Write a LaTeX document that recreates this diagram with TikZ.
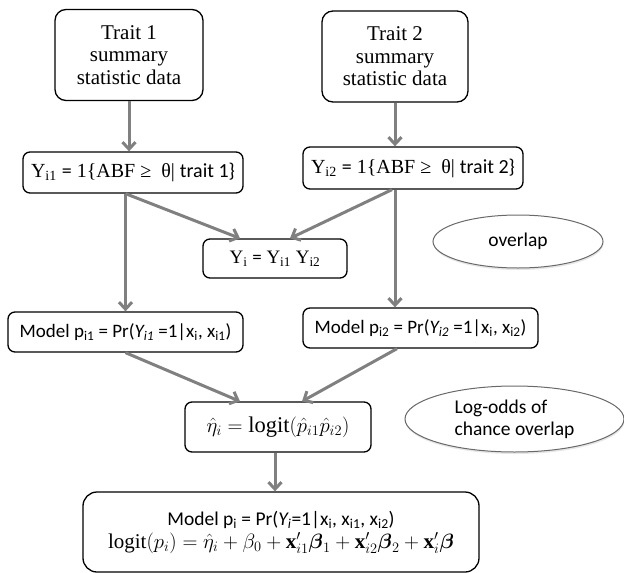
\documentclass[tikz,border=0pt]{standalone}
\usepackage{amsmath}
\usepackage{amssymb}
\usepackage{fontspec}
\setmainfont{Liberation Serif}
\newfontfamily\sansbody{Carlito}
\usetikzlibrary{arrows.meta,shapes.geometric,shadows}

\definecolor{flowgray}{RGB}{128,128,128}
\definecolor{notegray}{RGB}{105,105,105}
\newcommand{\sub}[1]{\textsubscript{#1}}

\begin{document}
\begin{tikzpicture}[->,>={Straight Barb[length=7pt,width=13pt]},x=1pt,y=-1pt,
  every edge/.style={draw=flowgray,line width=3pt},
  databox/.style={draw=black,line width=1.3pt,rounded corners=11pt,align=center,inner sep=0pt,
    minimum height=91pt,font=\fontsize{21}{22.5}\selectfont},
  stepbox/.style={draw=black,line width=1.3pt,rounded corners=7pt,align=center,inner sep=0pt},
  note/.style={ellipse,draw=notegray,line width=1pt,fill=white,align=left,inner sep=0pt,
    drop shadow={shadow xshift=0.5pt,shadow yshift=-2pt,opacity=0.2}}]
%\tikzstyle{every node}=[draw=red]
\useasboundingbox (0,0) rectangle (624,573);

\node[databox,minimum width=148pt] (trait1) at (129,55) {Trait 1\\summary\\statistic data};
\node[databox,minimum width=146pt] (trait2) at (395,56.5) {Trait 2\\summary\\statistic data};

\node[stepbox,minimum width=220pt,minimum height=41pt,font=\fontsize{20}{24}\selectfont] (y1) at (133,172.5)
  {Y\sub{i1} {\sansbody =} 1\{ABF ≥\ \ θ| {\sansbody trait 1\}}};
\node[stepbox,minimum width=220pt,minimum height=42pt,font=\fontsize{20}{24}\selectfont] (y2) at (413,168)
  {Y\sub{i2} {\sansbody =} 1\{ABF ≥\ \ θ| {\sansbody trait 2\}}};
\node[stepbox,minimum width=144pt,minimum height=39pt,font=\fontsize{19}{24}\selectfont] (yi) at (275,258.5)
  {Y\sub{i} {\sansbody =} Y\sub{i1} Y\sub{i2}};
\node[note,minimum width=170pt,minimum height=53pt,font=\sansbody\fontsize{19.5}{22}\selectfont] (overlap) at (518,241.5) {overlap};

\node[stepbox,minimum width=235pt,minimum height=40pt,font=\sansbody\fontsize{19}{22}\selectfont] (m1) at (125.5,332)
  {Model p\sub{i1} = Pr(\textit{Y\sub{i1}} =1|x\sub{i}, x\sub{i1})};
\node[stepbox,minimum width=235pt,minimum height=40pt,font=\sansbody\fontsize{19}{22}\selectfont] (m2) at (420.5,328)
  {Model p\sub{i2} = Pr(\textit{Y\sub{i2}} =1|x\sub{i}, x\sub{i2})};

\node[stepbox,minimum width=186pt,minimum height=50pt,font=\fontsize{22.5}{28}\selectfont] (eta) at (278,427)
  {$\hat{\eta}_i=\text{logit}(\hat{p}_{i1}\hat{p}_{i2})$};
\node[note,minimum width=219pt,minimum height=66pt,font=\sansbody\fontsize{19.5}{22}\selectfont] (logodds) at (514.5,419)
  {Log-odds of\\chance overlap};

\node[stepbox,rounded corners=14pt,minimum width=396pt,minimum height=80pt,font=\fontsize{21}{22}\selectfont] (final) at (281,532)
  {{\sansbody\fontsize{19.5}{22}\selectfont Model p\sub{i} = Pr(\textit{Y\sub{i}}=1|x\sub{i}, x\sub{i1}, x\sub{i2})}\\[1pt]
   $\text{logit}(p_i)=\hat{\eta}_i+\beta_0+\mathbf{x}'_{i1}\boldsymbol{\beta}_1+\mathbf{x}'_{i2}\boldsymbol{\beta}_2+\mathbf{x}'_i\boldsymbol{\beta}$};

\path (trait1.south) edge (trait1.south |- y1.north);
\path (trait2.south) edge (trait2.south |- y2.north);
\path (y1.south -| m1.north) edge ([xshift=-35pt]yi.north);
\path ([xshift=-21pt]y2.south) edge ([xshift=15pt]yi.north);
\path (y1.south -| m1.north) edge (m1.north);
\path ([xshift=-18pt]y2.south) edge ([xshift=-25.5pt]m2.north);
\path (m1.south) edge ([xshift=-38pt]eta.north);
\path ([xshift=-23.5pt]m2.south) edge ([xshift=24pt]eta.north);
\path ([xshift=-3pt]eta.south) edge ([xshift=-6pt]final.north);
\end{tikzpicture}
\end{document}
